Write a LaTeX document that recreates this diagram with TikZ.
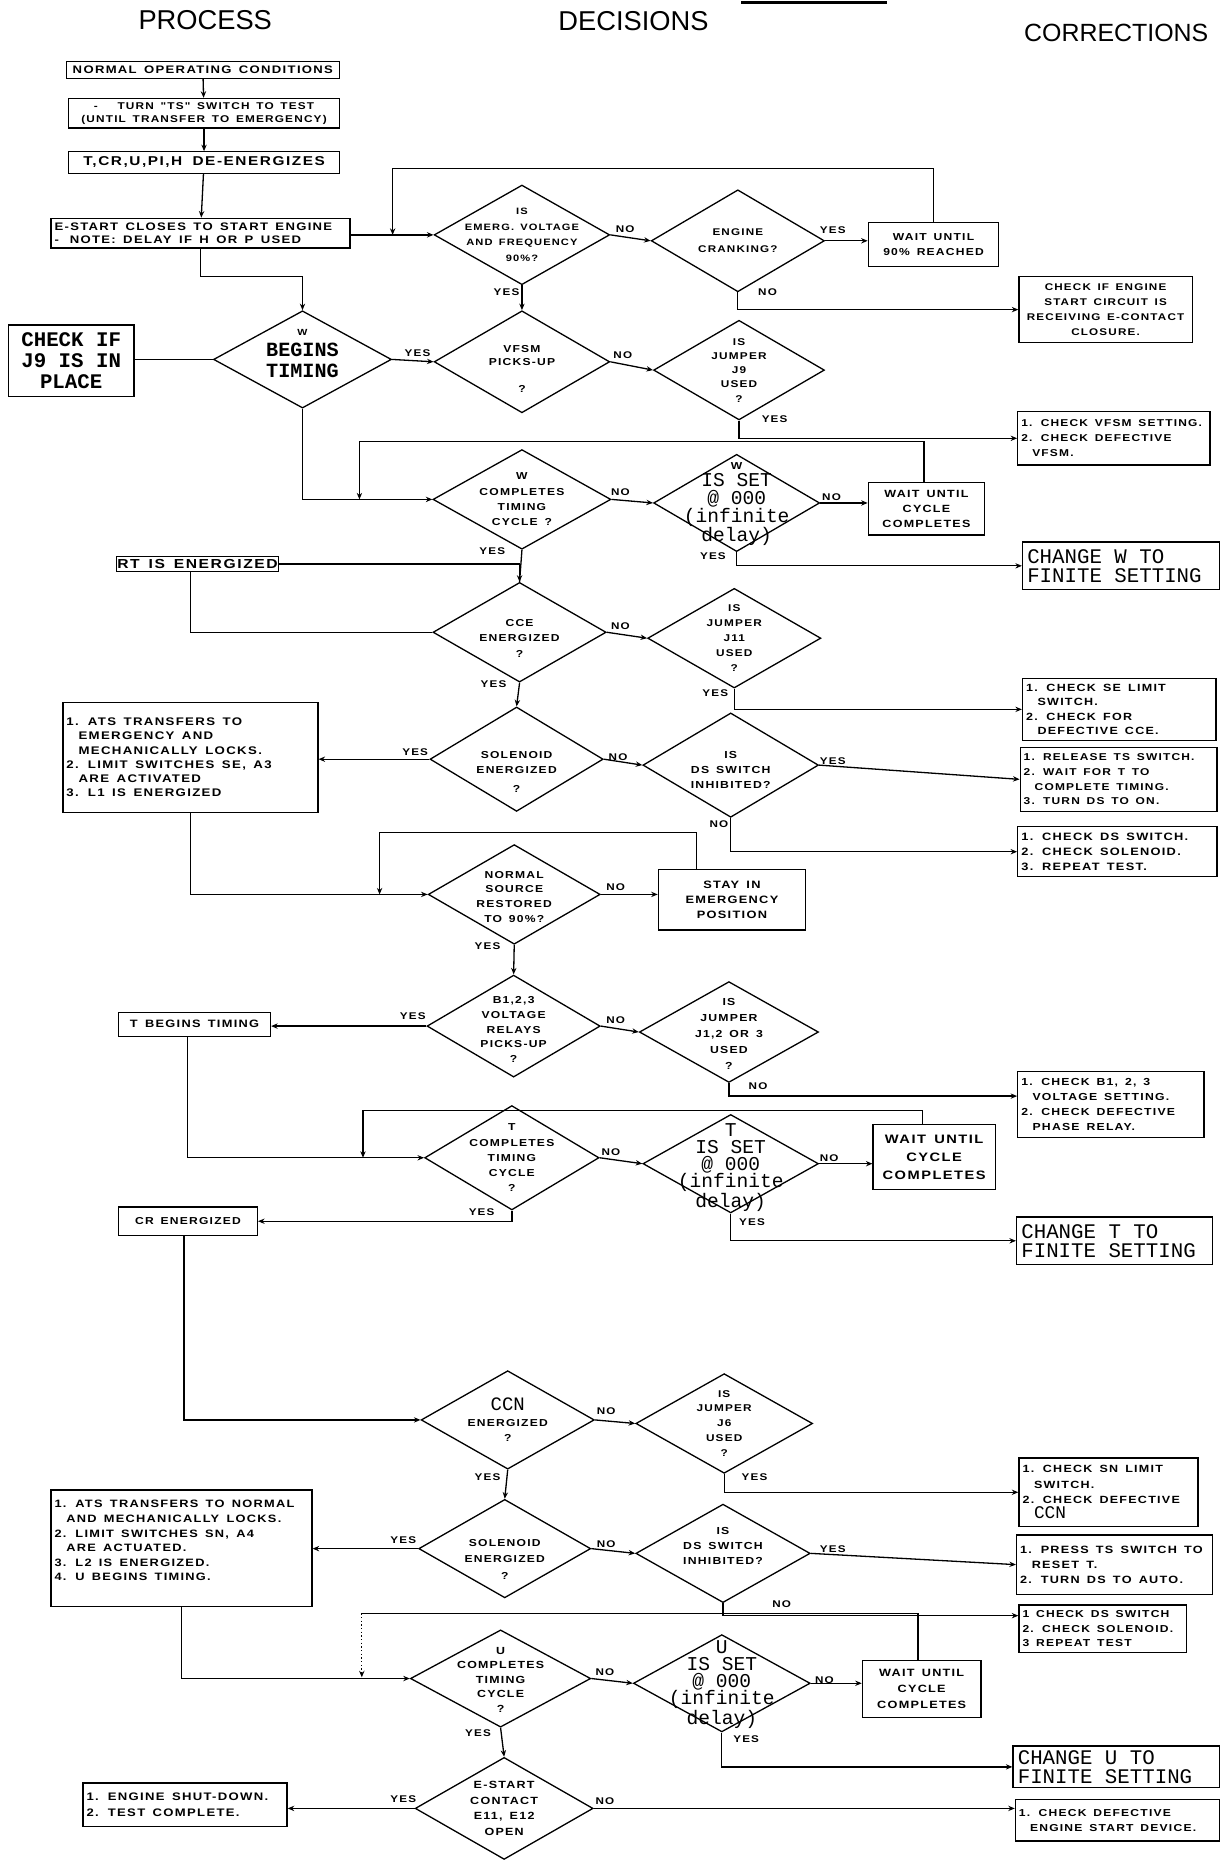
\documentclass[tikz,border=0pt]{standalone}
\usepackage{fontspec}
\setmainfont{Liberation Sans}
\newfontfamily\stf[FakeStretch=1.2,LetterSpace=12,WordSpace=1.5]{Liberation Sans}
\newfontfamily\twf{Liberation Mono}
\usetikzlibrary{shapes.geometric,arrows.meta}
\newcommand\fs[2]{\fontsize{#1}{#2}\selectfont}
\newcommand\ind{\hspace*{1.1em}}
\newcommand\xpar{\par}
\newcommand\mkdia[7]{\node[dia,minimum width=#4pt,minimum height=#5pt,label={[dt,yshift=#6pt]center:{#7}}] (#1) at (#2,#3) {};}
\begin{document}
\begin{tikzpicture}[x=1pt,y=-1pt,
 ws/.style={execute at begin node={\spaceskip=0pt\relax\xspaceskip=0pt\relax}},
 ln/.style={line width=1.1pt},
 arr/.style={line width=1.1pt,-{Stealth[length=5.5pt,width=4.5pt]}},
 box/.style={draw,line width=1.1pt,inner sep=1pt,align=center,font=\stf\bfseries\fs{8}{12}},
 lbox/.style={ws,draw,line width=1.1pt,inner xsep=3pt,inner ysep=1pt,align=flush left,font=\stf\bfseries\fs{8}{12}},
 tbox/.style={ws,draw,line width=1.1pt,inner xsep=4pt,inner ysep=1pt,align=flush left,font=\twf\fs{17.5}{16}},
 dia/.style={draw,diamond,line width=1.1pt,inner sep=0pt},
 dt/.style={ws,align=flush center,text width=150pt,inner sep=0pt,font=\stf\bfseries\fs{8.5}{13}},
 yn/.style={inner sep=0pt,font=\stf\bfseries\fs{8.2}{9}},
 hdr/.style={inner sep=0pt,font=\fs{23}{26}}]
\useasboundingbox (0,0) rectangle (1029,1568);
\fill[white] (0,0) rectangle (1029,1568);

% headers
\node[hdr] (hp) at (173,17) {PROCESS};
\node[hdr] (hd) at (534,18) {DECISIONS};
\node[hdr,font=\fs{21}{24}] (hc) at (941,28) {CORRECTIONS};
\draw[line width=2pt] (625,2) -- (748,2);

% process column boxes
\node[box,font=\stf\bfseries\fs{9.2}{10},minimum width=230pt,minimum height=14pt] (b1) at (171,59) {NORMAL OPERATING CONDITIONS};
\node[box,font=\stf\bfseries\fs{8.3}{11},minimum width=228pt,minimum height=25pt] (b2) at (172,95.5) {-\hspace{2em}TURN "TS" SWITCH TO TEST\\(UNTIL TRANSFER TO EMERGENCY)};
\node[box,font=\stf\bfseries\fs{10.8}{12},minimum width=228pt,minimum height=18pt] (b3) at (172,137) {T,CR,U,PI,H\hspace{0.8em}DE-ENERGIZES};
\node[lbox,font=\stf\bfseries\fs{9.2}{11.5},text width=246pt,minimum height=25pt] (b4) at (169,196.5) {E-START CLOSES TO START ENGINE\\-\hspace{1em}NOTE: DELAY IF H OR P USED};
\node[draw,line width=1.1pt,inner sep=1pt,align=center,font=\twf\bfseries\fs{17.5}{18},minimum width=106pt,minimum height=60pt] (cj9) at (60,304) {CHECK IF\\J9 IS IN\\PLACE};
\node[box,font=\stf\bfseries\fs{11}{11},inner sep=0pt,minimum width=137pt,minimum height=13pt] (rt) at (166.5,475.5) {RT IS ENERGIZED};
\node[lbox,font=\stf\bfseries\fs{9.3}{12},text width=209pt,minimum height=93pt] (ats1) at (160.5,638.5) {1. ATS TRANSFERS TO\\\ind EMERGENCY AND\\\ind MECHANICALLY LOCKS.\\2. LIMIT SWITCHES SE, A3\\\ind ARE ACTIVATED\\3. L1 IS ENERGIZED};
\node[box,font=\stf\bfseries\fs{9}{9},minimum width=128pt,minimum height=20pt] (tbt) at (164,863.5) {T BEGINS TIMING};
\node[box,font=\stf\bfseries\fs{8.5}{9},minimum width=117pt,minimum height=24pt] (cr) at (158.5,1029.5) {CR ENERGIZED};
\node[lbox,font=\stf\bfseries\fs{9}{12.3},text width=214pt,minimum height=98pt] (ats2) at (153,1305) {1. ATS TRANSFERS TO NORMAL\\\ind AND MECHANICALLY LOCKS.\\2. LIMIT SWITCHES SN, A4\\\ind ARE ACTUATED.\\3. L2 IS ENERGIZED.\\4. U BEGINS TIMING.\\\mbox{}};
\node[lbox,font=\stf\bfseries\fs{9.2}{13},text width=166pt,minimum height=37pt] (esd) at (156,1521.5) {1. ENGINE SHUT-DOWN.\\2. TEST COMPLETE.};

% right boxes
\node[box,font=\stf\bfseries\fs{8.5}{13},minimum width=110pt,minimum height=37pt] (w90) at (787,206) {WAIT UNTIL\\90\% REACHED};
\node[box,font=\stf\bfseries\fs{8.2}{12.5},minimum width=146pt,minimum height=56pt] (cie) at (932,261) {CHECK IF ENGINE\\START CIRCUIT IS\\RECEIVING E-CONTACT\\CLOSURE.};
\node[lbox,font=\stf\bfseries\fs{8.4}{12.5},text width=156pt,minimum height=45pt] (cvf) at (939,369.5) {1. CHECK VFSM SETTING.\\2. CHECK DEFECTIVE\\\ind VFSM.};
\node[box,font=\stf\bfseries\fs{8.8}{13},minimum width=98pt,minimum height=44pt] (ww) at (781,429) {WAIT UNTIL\\CYCLE\\COMPLETES};
\node[tbox,text width=158pt,minimum height=40pt] (chw) at (945,477) {CHANGE W TO\\FINITE SETTING};
\node[lbox,font=\stf\bfseries\fs{8.8}{12},text width=157pt,minimum height=52pt] (cse) at (943.5,598) {1. CHECK SE LIMIT\\\ind SWITCH.\\2. CHECK FOR\\\ind DEFECTIVE CCE.};
\node[lbox,font=\stf\bfseries\fs{8.4}{12.3},text width=160pt,minimum height=54pt] (rts) at (943,657) {1. RELEASE TS SWITCH.\\2. WAIT FOR T TO\\\ind COMPLETE TIMING.\\3. TURN DS TO ON.};
\node[lbox,font=\stf\bfseries\fs{9}{12.5},text width=162pt,minimum height=42pt] (cds1) at (942,718) {1. CHECK DS SWITCH.\\2. CHECK SOLENOID.\\3. REPEAT TEST.};
\node[box,font=\stf\bfseries\fs{9}{13},minimum width=124pt,minimum height=51pt] (stay) at (617,758.5) {STAY IN\\EMERGENCY\\POSITION};
\node[lbox,font=\stf\bfseries\fs{8.6}{12.5},text width=151pt,minimum height=56pt] (cb1) at (936.5,931) {1. CHECK B1, 2, 3\\\ind VOLTAGE SETTING.\\2. CHECK DEFECTIVE\\\ind PHASE RELAY.};
\node[box,font=\stf\bfseries\fs{10.3}{15},minimum width=103pt,minimum height=55pt] (wt) at (787.5,975.5) {WAIT UNTIL\\CYCLE\\COMPLETES};
\node[tbox,text width=157pt,minimum height=40pt] (cht) at (939.5,1046) {CHANGE T TO\\FINITE SETTING};
\node[lbox,font=\stf\bfseries\fs{8.8}{13},text width=145pt,minimum height=58pt] (csn) at (934.5,1258) {1. CHECK SN LIMIT\\\ind SWITCH.\\2. CHECK DEFECTIVE\\\ind {\twf\mdseries\fs{15}{13}CCN}};
\node[lbox,font=\stf\bfseries\fs{8.9}{12.5},text width=159pt,minimum height=50pt] (pts) at (939.5,1319) {1. PRESS TS SWITCH TO\\\ind RESET T.\\2. TURN DS TO AUTO.};
\node[lbox,font=\stf\bfseries\fs{8.5}{12},text width=135pt,minimum height=40pt] (cds2) at (929.5,1373) {1 CHECK DS SWITCH\\2. CHECK SOLENOID.\\3 REPEAT TEST};
\node[box,font=\stf\bfseries\fs{8.9}{13.5},minimum width=100pt,minimum height=48pt] (wu) at (777,1424) {WAIT UNTIL\\CYCLE\\COMPLETES};
\node[tbox,text width=166pt,minimum height=35pt] (chu) at (941,1489.5) {CHANGE U TO\\FINITE SETTING};
\node[lbox,font=\stf\bfseries\fs{8.5}{13},text width=166pt,minimum height=35pt] (cde) at (942,1534.5) {1. CHECK DEFECTIVE\\\ind ENGINE START DEVICE.};

% diamonds
\mkdia{d1}{440}{198}{148}{84}{0}{{\fs{7.8}{13}IS\\EMERG. VOLTAGE\\AND FREQUENCY\\90\%?\xpar}}
\mkdia{d2}{622}{203}{146}{86}{0}{{\fs{8.2}{14}ENGINE\\CRANKING?\xpar}}
\mkdia{dw}{255}{303}{150}{82}{5}{{\fs{7.5}{8}W}\\{\twf\bfseries\fs{17}{18}BEGINS\\TIMING\xpar}}
\mkdia{d3}{440}{305}{148}{86}{-6}{{\fs{8.5}{11}VFSM\\PICKS-UP\\[12pt]?\xpar}}
\mkdia{d4}{623}{312}{144}{84}{0}{{\fs{8.3}{12}IS\\JUMPER\\J9\\USED\\?\xpar}}
\mkdia{d5}{440}{421}{150}{84}{0}{W\\COMPLETES\\TIMING\\CYCLE ?}
\mkdia{d6}{621}{424}{140}{82}{-1}{W\\{\twf\mdseries\fs{16.5}{15}IS SET\\@ 000\\(infinite\\delay)\xpar}}
\mkdia{d7}{438}{533}{146}{84}{-5}{CCE\\ENERGIZED\\?}
\mkdia{d8}{619}{538}{146}{84}{0}{{\fs{8.3}{12.5}IS\\JUMPER\\J11\\USED\\?\xpar}}
\mkdia{d9}{435.5}{640}{146}{88}{-11}{SOLENOID\\ENERGIZED\\[3pt]?}
\mkdia{d10}{616}{645}{148}{88}{-4}{{\fs{8.6}{13}IS\\DS SWITCH\\INHIBITED?\xpar}}
\mkdia{d11}{433.5}{754}{145}{84}{-2}{{\fs{8.5}{12.5}NORMAL\\SOURCE\\RESTORED\\TO 90\%?\xpar}}
\mkdia{d12}{433}{865}{146}{86}{-3}{{\fs{8.5}{12.3}B1,2,3\\VOLTAGE\\RELAYS\\PICKS-UP\\?\xpar}}
\mkdia{d13}{614.5}{870}{151}{85}{-2}{{\fs{8.6}{13.5}IS\\JUMPER\\J1,2 OR 3\\USED\\?\xpar}}
\mkdia{d14}{431.5}{976}{147}{88}{0}{{\fs{8.5}{12.8}T\\COMPLETES\\TIMING\\CYCLE\\?\xpar}}
\mkdia{d15}{616}{981}{148}{83}{-3}{{\twf\mdseries\fs{16.5}{14.5}T\\IS SET\\@ 000\\(infinite\\delay)\xpar}}
\mkdia{d16}{428}{1197}{146}{83}{0}{{\twf\mdseries\fs{16}{14}CCN}\\ENERGIZED\\?}
\mkdia{d17}{610.5}{1200}{149}{84}{0}{{\fs{8.3}{12.6}IS\\JUMPER\\J6\\USED\\?\xpar}}
\mkdia{d18}{425.5}{1305.5}{145}{83}{-9}{{\fs{8.5}{14}SOLENOID\\ENERGIZED\\?\xpar}}
\mkdia{d19}{609.5}{1309.5}{147}{83}{6}{{\fs{8.6}{12.5}IS\\DS SWITCH\\INHIBITED?\xpar}}
\mkdia{d20}{422}{1415}{152}{82}{-1}{{\fs{8.7}{12.3}U\\COMPLETES\\TIMING\\CYCLE\\?\xpar}}
\mkdia{d21}{608.5}{1419}{149}{82}{-1}{{\twf\mdseries\fs{16.5}{14.5}U\\IS SET\\@ 000\\(infinite\\delay)\xpar}}
\mkdia{d22}{425}{1524.5}{150}{86}{0}{{\fs{8.8}{13}E-START\\CONTACT\\E11, E12\\OPEN\xpar}}

% bend coordinates
\coordinate (k1) at (255,233);
\coordinate (l1a) at (331,142); \coordinate (l1b) at (331,198);
\coordinate (l2a) at (303,372); \coordinate (l2b) at (303,421);
\coordinate (l3a) at (320,702); \coordinate (l3b) at (320,754);
\coordinate (l4a) at (306,936); \coordinate (l4b) at (306,976);
\coordinate (l5a) at (305,1360); \coordinate (l5b) at (305,1414);

% connectors
\draw[arr] (b1) -- (b2);
\draw[arr] (b2) -- (b3);
\draw[arr] (b3) -- (b4);
\draw[arr] (b4.east |- d1.west) -- (d1.west);
\draw[arr] (w90.north) |- (l1a) -- (l1b);
\draw[arr] (d1.east) -- (d2.west);
\draw[arr] (d2.east) -- (d2.east -| w90.west);
\draw[arr] (d2.south) |- (cie.west);
\draw[arr] (d1.south) -- (d3.north);
\draw[arr] (b4.south) |- (k1) -- (dw.north);
\draw[ln] (dw.west) -- (cj9.east |- dw.west);
\draw[arr] (dw.east) -- (d3.west);
\draw[arr] (d3.east) -- (d4.west);
\draw[arr] (d4.south) |- (cvf.west);
\draw[arr] (dw.south) |- (d5.west);
\draw[arr] ([xshift=-2pt]ww.north) |- (l2a) -- (l2b);
\draw[arr] (d5.east) -- (d6.west);
\draw[arr] (d6.east) -- (d6.east -| ww.west);
\draw[arr] (d6.south) |- (chw.west);
\draw[ln] (d5.south) -- (d7.north);
\draw[arr] (rt.east) -| (d7.north);
\draw[ln] ([xshift=-6pt]rt.south) |- (d7.west);
\draw[arr] (d7.east) -- (d8.west);
\draw[arr] (d8.south) |- (cse.west);
\draw[arr] (d7.south) -- (d9.north);
\draw[arr] (d9.west) -- (d9.west -| ats1.east);
\draw[arr] (d9.east) -- (d10.west);
\draw[arr] (d10.east) -- (rts.west);
\draw[arr] (d10.south) |- (cds1.west);
\draw[arr] (ats1.south) |- (d11.west);
\draw[arr] ([xshift=-30pt]stay.north) |- (l3a) -- (l3b);
\draw[arr] (d11.east) -- (d11.east -| stay.west);
\draw[arr] (d11.south) -- (d12.north);
\draw[arr] (d12.west) -- (d12.west -| tbt.east);
\draw[arr] (d12.east) -- (d13.west);
\draw[arr] (d13.south) |- ([yshift=7pt]cb1.west);
\draw[arr] ([xshift=-6pt]tbt.south) |- (d14.west);
\draw[arr] ([xshift=-10pt]wt.north) |- (l4a) -- (l4b);
\draw[arr] (d14.east) -- (d15.west);
\draw[arr] (d15.east) -- (d15.east -| wt.west);
\draw[arr] (d15.south) |- (cht.west);
\draw[arr] (d14.south) |- (cr.east);
\draw[arr] ([xshift=-3.5pt]cr.south) |- (d16.west);
\draw[arr] (d16.east) -- (d17.west);
\draw[arr] (d17.south) |- (csn.west);
\draw[arr] (d16.south) -- (d18.north);
\draw[arr] (d18.west) -- (d18.west -| ats2.east);
\draw[arr] (d18.east) -- (d19.west);
\draw[arr] (d19.east) -- (pts.west);
\draw[arr] (d19.south) |- ([yshift=11pt]cds2.west);
\draw[ln] ([xshift=-3pt]wu.north) |- (l5a);
\draw[arr,dotted] (l5a) -- (l5b);
\draw[arr] (ats2.south) |- (d20.west);
\draw[arr] (d20.east) -- (d21.west);
\draw[arr] (d21.east) -- (d21.east -| wu.west);
\draw[arr] (d21.south) |- (chu.west);
\draw[arr] (d20.south) -- (d22.north);
\draw[arr] (d22.west) -- (d22.west -| esd.east);
\draw[arr] (d22.east) -- (d22.east -| cde.west);

% yes / no labels
\node[yn] (n1) at (527,193) {NO};
\node[yn] (y2) at (702,194) {YES};
\node[yn] (n2) at (647,246) {NO};
\node[yn] (y1) at (427,246) {YES};
\node[yn] (yw) at (352,298) {YES};
\node[yn] (n3) at (525,299) {NO};
\node[yn] (y4) at (653,353) {YES};
\node[yn] (n5) at (523,415) {NO};
\node[yn] (n6) at (701,419) {NO};
\node[yn] (y6) at (601,469) {YES};
\node[yn] (y5) at (415,465) {YES};
\node[yn] (n7) at (523,528) {NO};
\node[yn] (y8) at (603,584) {YES};
\node[yn] (y7) at (416,577) {YES};
\node[yn] (y9) at (350,634) {YES};
\node[yn] (n9) at (521,638) {NO};
\node[yn] (y10) at (702,642) {YES};
\node[yn] (n10) at (606,695) {NO};
\node[yn] (n11) at (519,748) {NO};
\node[yn] (y11) at (411,798) {YES};
\node[yn] (y12) at (348,857) {YES};
\node[yn] (n12) at (519,860) {NO};
\node[yn] (n13) at (639,916) {NO};
\node[yn] (n14) at (515,971) {NO};
\node[yn] (y14) at (406,1022) {YES};
\node[yn] (n15) at (699,976) {NO};
\node[yn] (y15) at (634,1030) {YES};
\node[yn] (n16) at (511,1190) {NO};
\node[yn] (y16) at (411,1245) {YES};
\node[yn] (y17) at (636,1245) {YES};
\node[yn] (y18) at (340,1298) {YES};
\node[yn] (n18) at (511,1302) {NO};
\node[yn] (y19) at (702,1306) {YES};
\node[yn] (n19) at (659,1352) {NO};
\node[yn] (n20) at (510,1410) {NO};
\node[yn] (y20) at (403,1461) {YES};
\node[yn] (n21) at (695,1416) {NO};
\node[yn] (y21) at (629,1466) {YES};
\node[yn] (y22) at (340,1517) {YES};
\node[yn] (n22) at (510,1518) {NO};
\end{tikzpicture}
\end{document}
